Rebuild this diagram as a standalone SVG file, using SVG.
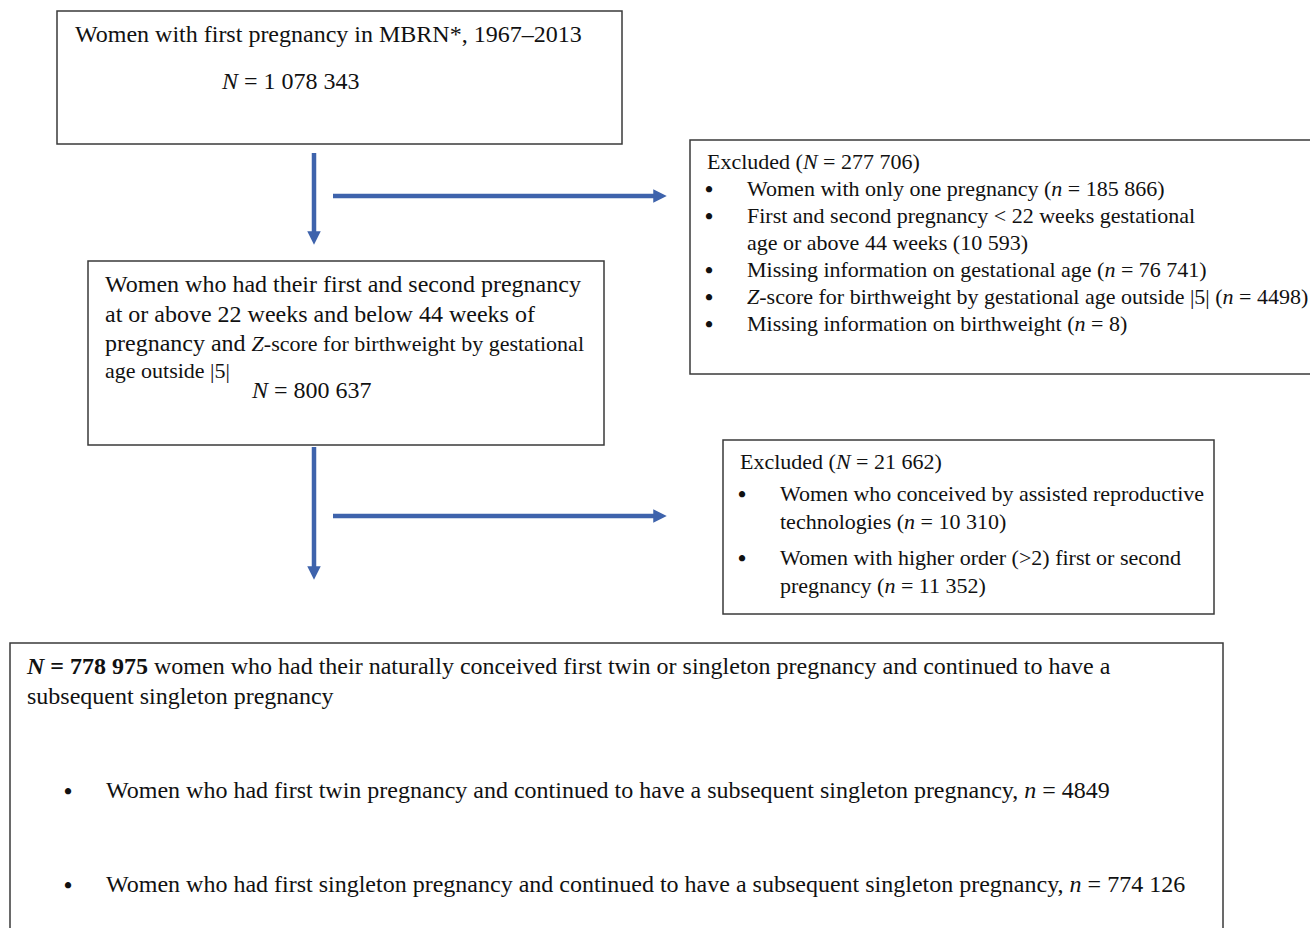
<svg xmlns="http://www.w3.org/2000/svg" width="1310" height="928" viewBox="0 0 1310 928">
<style>
.box{fill:#fff;stroke:#3a3a3a;stroke-width:1.5}
text{font-family:"Liberation Serif","Times New Roman",serif;fill:#111;font-size:24px}
.b{font-size:22px}
.s{font-size:22px}
.m{font-size:22px}
.big{font-size:24px}
.dot{font-size:23px;font-weight:bold}
.conn{stroke:#3e63ac;stroke-width:4.5;fill:none}
</style>
<defs>
<marker id="ah" viewBox="0 0 10 10" refX="5" refY="5" markerWidth="3" markerHeight="3" orient="auto" markerUnits="strokeWidth">
<path d="M0,0 L10,5 L0,10 z" fill="#3e63ac"/>
</marker>
</defs>
<rect width="1310" height="928" fill="#fff"/>
<g id="connectors">
<line class="conn" x1="314" y1="153" x2="314" y2="238" marker-end="url(#ah)"/>
<line class="conn" x1="333" y1="196" x2="660" y2="196" marker-end="url(#ah)"/>
<line class="conn" x1="314" y1="447" x2="314" y2="573" marker-end="url(#ah)"/>
<line class="conn" x1="333" y1="516" x2="660" y2="516" marker-end="url(#ah)"/>
</g>
<g id="start">
<rect class="box" x="57" y="11" width="565" height="133"/>
<text class="big" x="75" y="42">Women with first pregnancy in MBRN*, 1967–2013</text>
<text class="big" x="222" y="89"><tspan font-style="italic">N</tspan> = 1 078 343</text>
</g>
<g id="excluded1">
<rect class="box" x="690" y="140" width="625" height="234"/>
<text class="b" x="707" y="169">Excluded (<tspan font-style="italic">N</tspan> = 277 706)</text>
<text class="dot" x="705" y="197">•</text>
<text class="b" x="747" y="196">Women with only one pregnancy (<tspan font-style="italic">n</tspan> = 185 866)</text>
<text class="dot" x="705" y="224">•</text>
<text class="b" x="747" y="223">First and second pregnancy &lt; 22 weeks gestational</text>
<text class="b" x="747" y="250">age or above 44 weeks (10 593)</text>
<text class="dot" x="705" y="278">•</text>
<text class="b" x="747" y="277">Missing information on gestational age (<tspan font-style="italic">n</tspan> = 76 741)</text>
<text class="dot" x="705" y="305">•</text>
<text class="b" x="747" y="304"><tspan font-style="italic">Z</tspan>-score for birthweight by gestational age outside |5| (<tspan font-style="italic">n</tspan> = 4498)</text>
<text class="dot" x="705" y="332">•</text>
<text class="b" x="747" y="331">Missing information on birthweight (<tspan font-style="italic">n</tspan> = 8)</text>
</g>
<g id="eligible">
<rect class="box" x="88" y="261" width="516" height="184"/>
<text class="big" x="105" y="292">Women who had their first and second pregnancy</text>
<text class="big" x="105" y="322">at or above 22 weeks and below 44 weeks of</text>
<text class="big" x="105" y="351">pregnancy and <tspan class="m" font-style="italic">Z</tspan><tspan class="m">-score for birthweight by gestational</tspan></text>
<text class="s" x="105" y="378">age outside |5|</text>
<text class="big" x="252" y="398"><tspan font-style="italic">N</tspan> = 800 637</text>
</g>
<g id="excluded2">
<rect class="box" x="723" y="440" width="491" height="174"/>
<text class="b" x="740" y="469">Excluded (<tspan font-style="italic">N</tspan> = 21 662)</text>
<text class="dot" x="738" y="502">•</text>
<text class="b" x="780" y="501">Women who conceived by assisted reproductive</text>
<text class="b" x="780" y="529">technologies (<tspan font-style="italic">n</tspan> = 10 310)</text>
<text class="dot" x="738" y="566">•</text>
<text class="b" x="780" y="565">Women with higher order (&gt;2) first or second</text>
<text class="b" x="780" y="593">pregnancy (<tspan font-style="italic">n</tspan> = 11 352)</text>
</g>
<g id="final">
<rect class="box" x="10" y="643" width="1213" height="300"/>
<text class="big" x="27" y="674"><tspan font-weight="bold" font-style="italic">N</tspan><tspan font-weight="bold"> = 778 975</tspan> women who had their naturally conceived first twin or singleton pregnancy and continued to have a</text>
<text class="big" x="27" y="704">subsequent singleton pregnancy</text>
<text class="dot" x="64" y="799">•</text>
<text class="big" x="106" y="798">Women who had first twin pregnancy and continued to have a subsequent singleton pregnancy, <tspan font-style="italic">n</tspan> = 4849</text>
<text class="dot" x="64" y="893">•</text>
<text class="big" x="106" y="892">Women who had first singleton pregnancy and continued to have a subsequent singleton pregnancy, <tspan font-style="italic">n</tspan> = 774 126</text>
</g>
</svg>
